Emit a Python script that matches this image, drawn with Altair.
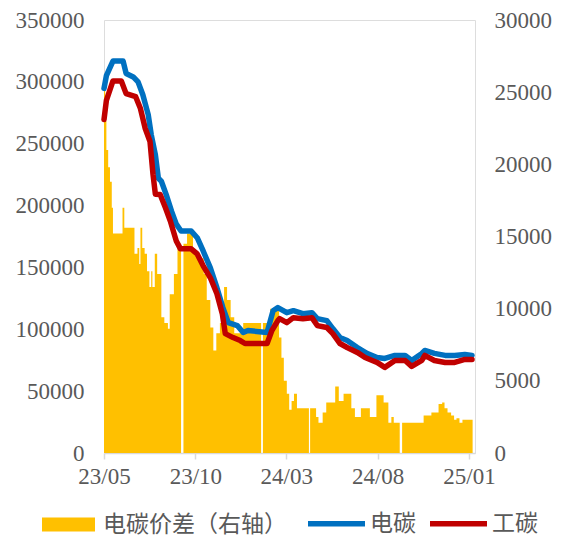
import altair as alt
import pandas as pd

# 电碳 (left axis)
e_dates = ["2023-05-01","2023-05-05","2023-05-16","2023-06-02","2023-06-07","2023-06-19","2023-06-27",
           "2023-07-05","2023-07-14","2023-07-19","2023-07-26","2023-07-31","2023-08-05","2023-08-13",
           "2023-08-22","2023-08-30","2023-09-07","2023-09-24","2023-10-04","2023-10-14","2023-10-26",
           "2023-11-06","2023-11-16","2023-11-25","2023-12-10","2023-12-20","2023-12-28","2024-01-29",
           "2024-02-08","2024-02-16","2024-03-02","2024-03-13","2024-03-29","2024-04-13","2024-04-22",
           "2024-05-08","2024-05-18","2024-05-30","2024-06-11","2024-06-28","2024-07-14","2024-07-31",
           "2024-08-13","2024-08-30","2024-09-16","2024-09-27","2024-10-14","2024-10-19","2024-11-04",
           "2024-11-22","2024-12-08","2024-12-25","2025-01-06"]
e_values = [294700,305000,316800,316800,306800,304000,300000,
            289600,273500,257500,241000,222000,219700,209000,
            195500,185000,179400,179400,174000,163300,149600,
            133600,117500,105400,103000,97400,99000,97400,
            115000,117500,113400,115000,112600,113400,108600,
            107000,100600,93300,90900,85300,80500,77200,
            76400,78900,78900,74800,80500,82900,80500,
            78900,78900,79700,78900]

# 工碳 (left axis)
g_dates = ["2023-05-01","2023-05-05","2023-05-16","2023-05-30","2023-06-07","2023-06-23","2023-07-01",
           "2023-07-09","2023-07-17","2023-07-22","2023-07-26","2023-08-03","2023-08-12","2023-08-20",
           "2023-08-30","2023-09-06","2023-09-24","2023-10-04","2023-10-14","2023-10-26","2023-11-06",
           "2023-11-15","2023-11-20","2023-12-03","2023-12-15","2023-12-23","2024-01-29","2024-02-06",
           "2024-02-16","2024-02-19","2024-03-02","2024-03-13","2024-03-29","2024-04-13","2024-04-22",
           "2024-05-08","2024-05-18","2024-05-30","2024-06-11","2024-06-28","2024-07-11","2024-07-31",
           "2024-08-13","2024-08-30","2024-09-16","2024-09-27","2024-10-14","2024-10-19","2024-11-04",
           "2024-11-22","2024-12-08","2024-12-25","2025-01-06"]
g_values = [269500,285000,300700,300700,290500,288000,278400,
            262300,251800,225300,209200,209000,198000,187500,
            171400,165000,165000,160900,151300,141600,128700,
            112600,96500,93300,90900,88500,88500,99000,
            107000,108600,105400,109400,108600,109400,103000,
            101400,96500,88500,85300,81300,77200,73200,
            69200,74800,74800,70000,74800,78900,74800,
            73200,73200,75600,75600]

# 电碳价差 (right axis)
s_dates = ["2023-05-01","2023-05-03","2023-05-05","2023-05-08","2023-05-11","2023-05-14","2023-05-16",
           "2023-06-01","2023-06-04","2023-06-21","2023-06-26","2023-06-29","2023-07-01","2023-07-04",
           "2023-07-08","2023-07-12","2023-07-16","2023-07-19","2023-07-21","2023-07-25","2023-07-29",
           "2023-08-05","2023-08-10","2023-08-16","2023-08-19","2023-08-26","2023-09-01","2023-09-07",
           "2023-09-11","2023-09-17","2023-09-27","2023-10-07","2023-10-15","2023-10-20","2023-10-26",
           "2023-10-31","2023-11-05","2023-11-11","2023-11-18","2023-11-23","2023-11-29","2023-12-05",
           "2023-12-20","2024-01-19","2024-01-22","2024-02-03","2024-02-18","2024-02-22","2024-02-26",
           "2024-03-02","2024-03-06","2024-03-10","2024-03-14","2024-03-19","2024-04-08","2024-04-10",
           "2024-04-20","2024-04-24","2024-05-01","2024-05-07","2024-05-22","2024-05-28","2024-06-05",
           "2024-06-18","2024-06-24","2024-07-04","2024-07-19","2024-07-30","2024-08-11","2024-08-19",
           "2024-08-24","2024-08-28","2024-09-07","2024-09-11","2024-10-17","2024-10-30","2024-11-11",
           "2024-11-17","2024-11-21","2024-11-26","2024-12-02","2024-12-07","2024-12-11","2024-12-16",
           "2024-12-21","2025-01-07"]
s_values = [26000,23000,21000,19800,18800,17000,15200,
            17000,15600,13800,14200,13100,15600,14200,
            13800,12600,11500,12600,11500,13800,12400,
            9400,9000,8600,11000,12400,14500,0,
            14500,15200,13800,13500,12400,10600,8700,
            7100,8300,9000,11500,10600,9400,8300,
            9000,0,9000,10000,8000,6600,5000,
            4100,3000,3600,4100,3100,0,3100,
            2500,2100,2800,3500,4600,3600,4100,
            3100,2500,3100,2500,4000,3500,2100,
            2500,2100,0,2100,2600,2800,3400,
            3500,3100,2800,2600,2300,2400,2100,
            2300,2300]

tick_dates = [(2023, 5), (2023, 10), (2024, 3), (2024, 8), (2025, 1)]

SPREAD = "电碳价差（右轴）"
E = "电碳"
G = "工碳"

FONT = "Liberation Serif, Noto Sans CJK SC"
GRAY = "#595959"

df_s = pd.DataFrame({"date": [d + "T00:00" for d in s_dates], "v": s_values, "series": SPREAD})
df_e = pd.DataFrame({"date": [d + "T00:00" for d in e_dates], "v": e_values, "series": E})
df_g = pd.DataFrame({"date": [d + "T00:00" for d in g_dates], "v": g_values, "series": G})

x_enc = alt.X(
    "date:T",
    scale=alt.Scale(domain=[alt.DateTime(year=2023, month=5, date=1),
                            alt.DateTime(year=2025, month=1, date=11)], nice=False),
    axis=alt.Axis(
        title=None, format="%y/%m", grid=False,
        values=[alt.DateTime(year=y, month=m, date=1) for y, m in tick_dates],
        domainColor="#D9D9D9", domainWidth=1.5, tickColor="#D9D9D9", tickWidth=1.5, tickSize=6,
        labelFont=FONT, labelFontSize=23, labelColor=GRAY, labelPadding=6, labelOverlap=False,
        labelFlush=False,
    ),
)

area = alt.Chart(df_s).mark_area(interpolate="step-after").encode(
    x=x_enc,
    y=alt.Y("v:Q",
            scale=alt.Scale(domain=[0, 30000], nice=False),
            axis=alt.Axis(orient="right", title=None, values=list(range(0, 30001, 5000)), format="d",
                          grid=False, domain=False, ticks=False, labelPadding=19,
                          labelFont=FONT, labelFontSize=23, labelColor=GRAY)),
    fill=alt.Fill("series:N", scale=alt.Scale(domain=[SPREAD], range=["#FFC000"]),
                  legend=alt.Legend(orient="none", legendX=-62, legendY=478, title=None,
                                    direction="horizontal",
                                    symbolType="M-1,-0.26H1V0.26H-1Z", symbolSize=2809,
                                    symbolStrokeWidth=0, labelFont=FONT, labelFontSize=23,
                                    labelColor=GRAY, labelOffset=8, labelLimit=400, padding=0)),
)

stroke_scale = alt.Scale(domain=[E, G], range=["#0070C0", "#C00000"])
stroke_legend = alt.Legend(orient="none", legendX=201, legendY=472, title=None, direction="horizontal",
                           symbolType="stroke", symbolSize=3249, symbolStrokeWidth=5.5,
                           labelFont=FONT, labelFontSize=23, labelColor=GRAY, labelOffset=2,
                           columnPadding=3, labelLimit=400, padding=0)

y_left = alt.Y("v:Q",
               scale=alt.Scale(domain=[0, 350000], nice=False),
               axis=alt.Axis(orient="left", title=None, values=list(range(0, 350001, 50000)), format="d",
                             grid=False, domain=False, ticks=False, labelPadding=20,
                             labelFont=FONT, labelFontSize=23, labelColor=GRAY))

line_e = alt.Chart(df_e).mark_line(strokeWidth=5.5, strokeJoin="round", strokeCap="round").encode(
    x=x_enc, y=y_left,
    stroke=alt.Stroke("series:N", scale=stroke_scale, legend=stroke_legend),
)
line_g = alt.Chart(df_g).mark_line(strokeWidth=5.5, strokeJoin="round", strokeCap="round").encode(
    x=x_enc, y=y_left,
    stroke=alt.Stroke("series:N", scale=stroke_scale, legend=stroke_legend),
)

lines = alt.layer(line_e, line_g)

chart = alt.layer(area, lines).resolve_scale(y="independent").properties(
    width=371, height=433,
    autosize=alt.AutoSizeParams(type="none"),
    padding={"left": 96, "top": 12, "right": 79, "bottom": 82},
).configure_view(stroke=None).configure(background="white")

chart.save("out.html", embed_options={"renderer": "svg", "actions": False})
